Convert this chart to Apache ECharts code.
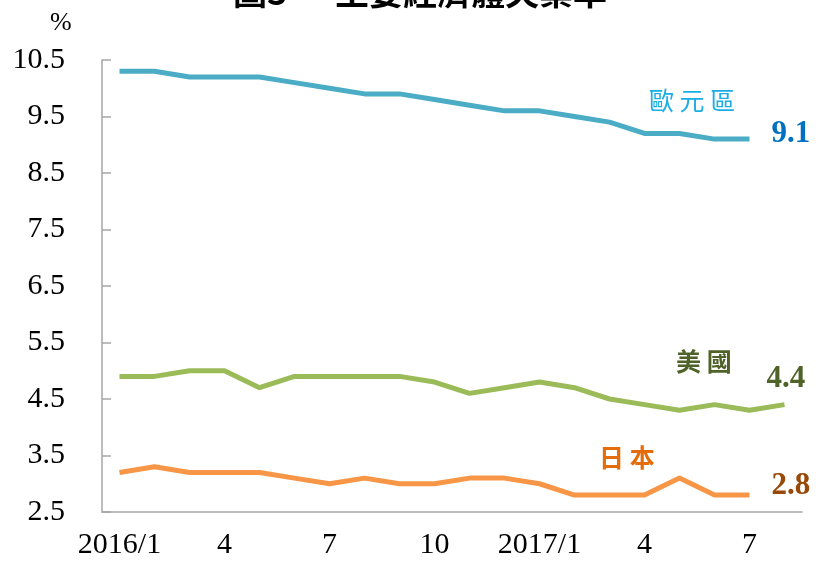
<!DOCTYPE html>
<html>
<head>
<meta charset="utf-8">
<script src="https://cdn.jsdelivr.net/npm/echarts@6/dist/echarts.min.js"></script>
<style>
html,body{margin:0;padding:0;background:#fff;}
#main{width:816px;height:562px;}
</style>
</head>
<body>
<div id="main"></div>
<script>
// 月份
var months = ['2016/1','2','3','4','5','6','7','8','9','10','11','12',
	'2017/1','2','3','4','5','6','7','8'];
// 失業率 (%)
var euroArea = [10.3,10.3,10.2,10.2,10.2,10.1,10.0,9.9,9.9,9.8,9.7,9.6,9.6,9.5,9.4,9.2,9.2,9.1,9.1];
var usa = [4.9,4.9,5.0,5.0,4.7,4.9,4.9,4.9,4.9,4.8,4.6,4.7,4.8,4.7,4.5,4.4,4.3,4.4,4.3,4.4];
var japan = [3.2,3.3,3.2,3.2,3.2,3.1,3.0,3.1,3.0,3.0,3.1,3.1,3.0,2.8,2.8,2.8,3.1,2.8,2.8];

var serif = '"Liberation Serif","Times New Roman",serif';
var cjk = '"Noto Sans CJK TC","Noto Sans CJK SC",sans-serif';

var myChart = echarts.init(document.getElementById('main'));

// 線尾數值標籤
function endLbl(color, off)
{
	return {
		show: true,
		formatter: function(p){ return p.value.toFixed(1); },
		color: color,
		fontFamily: serif,
		fontWeight: 'bold',
		fontSize: 31,
		distance: 22,
		offset: off
	};
}

option = {
	animation: false,
	grid: {left: 102, right: 14, top: 60, bottom: 50},
	graphic: [
		{type: 'text', left: 233, top: -25,
			style: {text: '圖3', font: 'bold 34px ' + cjk, fill: '#000'}},
		{type: 'text', left: 335, top: -25,
			style: {text: '主要經濟體失業率', font: 'bold 34px ' + cjk, fill: '#000'}},
		{type: 'text', left: 50, top: 10,
			style: {text: '%', font: '26px ' + serif, fill: '#000'}},
		{type: 'text', left: 649, top: 88,
			style: {text: '歐 元 區', font: '25px ' + cjk, fill: '#1AADE6'}},
		{type: 'text', left: 676, top: 349,
			style: {text: '美 國', font: 'bold 25px ' + cjk, fill: '#4F6228'}},
		{type: 'text', left: 599, top: 445,
			style: {text: '日 本', font: 'bold 25px ' + cjk, fill: '#E46C0A'}}
	],
	xAxis: {
		type: 'category',
		data: months,
		boundaryGap: true,
		axisLine: {lineStyle: {color: '#A6A6A6', width: 1.5}},
		axisTick: {interval: 2, inside: true, length: 14, lineStyle: {color: '#A6A6A6', width: 1.5}},
		axisLabel: {interval: 2, margin: 18, color: '#000', fontFamily: serif, fontSize: 30},
		splitLine: {show: false}
	},
	yAxis: {
		type: 'value',
		min: 2.5,
		max: 10.5,
		interval: 1,
		axisLine: {show: true, lineStyle: {color: '#A6A6A6', width: 1.5}},
		axisTick: {show: true, inside: true, length: 9, lineStyle: {color: '#A6A6A6', width: 1.5}},
		axisLabel: {margin: 37, color: '#000', fontFamily: serif, fontSize: 30,
			formatter: function(v){ return v.toFixed(1); }},
		splitLine: {show: false}
	},
	series: [
		{name: '歐元區', type: 'line', data: euroArea, symbol: 'none',
			lineStyle: {color: '#4BACC6', width: 5}, endLabel: endLbl('#0070C0', [0, -5])},
		{name: '美國', type: 'line', data: usa, symbol: 'none',
			lineStyle: {color: '#9BBB59', width: 5}, endLabel: endLbl('#4F6228', [-40, -26])},
		{name: '日本', type: 'line', data: japan, symbol: 'none',
			lineStyle: {color: '#F79646', width: 5}, endLabel: endLbl('#984807', [0, -9])}
	]
};
myChart.setOption(option);
</script>
</body>
</html>
